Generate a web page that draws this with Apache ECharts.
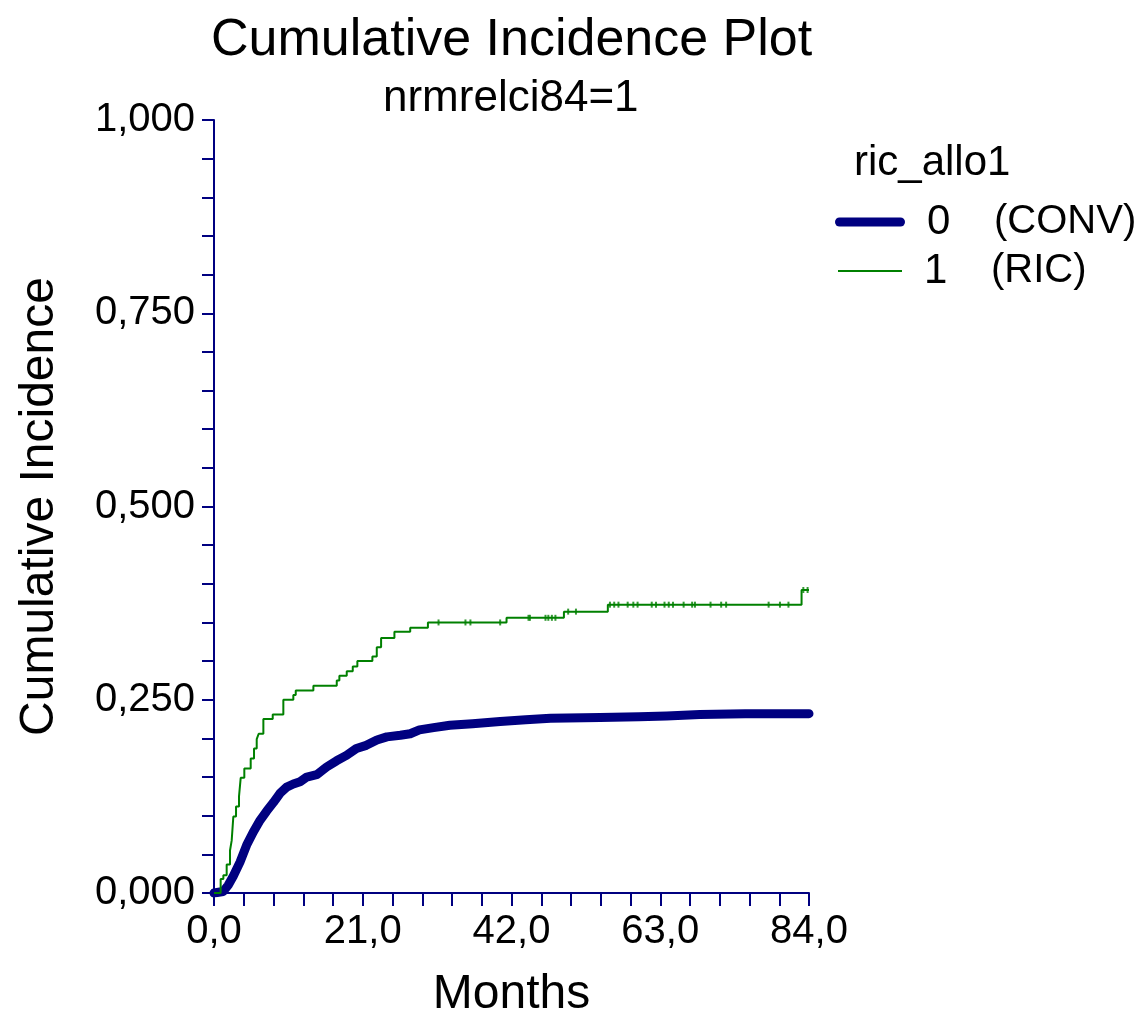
<!DOCTYPE html>
<html>
<head>
<meta charset="utf-8">
<title>Cumulative Incidence Plot</title>
<script src="https://cdn.jsdelivr.net/npm/echarts@6/dist/echarts.min.js"></script>
<style>
  html, body { margin: 0; padding: 0; background: #ffffff; }
  #chart { width: 1145px; height: 1013px; }
</style>
</head>
<body>
<div id="chart"></div>
<script>
// Group codes and their descriptions (ric_allo1)
const groupCodes = ['0', '1'];
const groupLabels = ['(CONV)', '(RIC)'];

// Group 0 (CONV): cumulative incidence by month
const convMonths = [0, 1.3, 2.0, 2.73, 3.67, 4.61, 5.55, 6.5, 7.44, 8.38, 9.32, 10.26, 11.2, 12.15,
  13.1, 14.5, 15.9, 17.3, 18.7, 20.1, 21.5, 23.0, 24.4, 26.3, 27.7, 29.0, 31.0, 33.3, 36.5,
  40.4, 44.0, 47.5, 54.5, 60.0, 63.9, 68.6, 75.0, 84.0];
const convValues = [0, 0.002, 0.010, 0.022, 0.040, 0.062, 0.079, 0.094, 0.106, 0.117, 0.129, 0.137,
  0.141, 0.144, 0.150, 0.153, 0.163, 0.171, 0.178, 0.187, 0.191, 0.198, 0.202, 0.204, 0.206,
  0.211, 0.214, 0.217, 0.219, 0.222, 0.224, 0.226, 0.227, 0.228, 0.229, 0.231, 0.232, 0.232];

// Group 1 (RIC): step times (month of each jump) and the level reached
const ricMonths = [0, 0.94, 1.32, 1.79, 2.26, 2.50, 2.73, 3.11, 3.53, 3.77, 4.28, 5.18, 5.65, 6.03,
  6.31, 6.97, 8.29, 9.79, 11.2, 11.54, 14.03, 17.33, 17.7, 18.74, 19.59, 20.24, 22.36, 22.98,
  23.59, 25.47, 27.7, 30.2, 41.3, 49.4, 55.6, 82.95, 84.0];
const ricValues = [0, 0.018, 0.023, 0.037, 0.055, 0.068, 0.099, 0.112, 0.125, 0.149, 0.161, 0.174,
  0.187, 0.199, 0.206, 0.225, 0.231, 0.250, 0.256, 0.262, 0.268, 0.275, 0.281, 0.287, 0.293,
  0.300, 0.306, 0.318, 0.330, 0.338, 0.343, 0.350, 0.356, 0.364, 0.373, 0.392, 0.392];

// Group 1 (RIC): censored observation times
const ricCensored = [31.7, 35.5, 36.2, 40.4, 44.4, 44.6, 46.8, 47.2, 47.7, 48.2, 50.0, 51.1,
  55.9, 56.5, 57.1, 58.4, 59.2, 59.8, 61.8, 62.4, 63.6, 64.2, 64.8, 66.3, 67.5, 67.9, 70.1,
  71.6, 72.3, 78.3, 79.9, 81.1, 83.2, 83.8];

// Axis ticks
const xTickStep = 21;
const yTickStep = 0.25;

const NAVY = '#000080';
const GREEN = '#008000';
const FONT = "'Liberation Sans', Arial, sans-serif";

const pairs = (xs, ys) => xs.map((x, i) => [x, ys[i]]);

// level of the RIC step function at time t
function ricLevelAt(t) {
  let v = ricValues[0];
  for (let i = 0; i < ricMonths.length; i++) {
    if (ricMonths[i] <= t) v = ricValues[i];
  }
  return v;
}

const chart = echarts.init(document.getElementById('chart'), null, { renderer: 'canvas' });

const axisLine = { show: true, lineStyle: { color: NAVY, width: 2 } };
const tickStyle = { color: NAVY, width: 2 };

const legendRich = {
  a: { fontFamily: FONT, fontSize: 42, color: '#000', width: 67, padding: [0, 0, 0, 17] },
  b: { fontFamily: FONT, fontSize: 40, color: '#000' }
};
const legendFormatter = name => {
  const i = groupCodes.indexOf(name);
  return '{a|' + name + '}{b|' + groupLabels[i] + '}';
};

chart.setOption({
  animation: false,
  backgroundColor: '#ffffff',
  title: [
    {
      text: 'Cumulative Incidence Plot',
      left: 206, top: 10,
      textStyle: { fontFamily: FONT, fontSize: 52, fontWeight: 'normal', color: '#000' }
    },
    {
      text: 'nrmrelci84=1',
      left: 378, top: 72,
      textStyle: { fontFamily: FONT, fontSize: 44, fontWeight: 'normal', color: '#000' }
    },
    {
      text: 'ric_allo1',
      left: 849, top: 137,
      textStyle: { fontFamily: FONT, fontSize: 42, fontWeight: 'normal', color: '#000' }
    }
  ],
  legend: [
    {
      data: [groupCodes[0]],
      left: 830, top: 193,
      itemWidth: 70, itemHeight: 9, itemGap: 0,
      icon: 'path://M4.5,0 H65.5 A4.5,4.5 0 0 1 65.5,9 H4.5 A4.5,4.5 0 0 1 4.5,0 Z',
      selectedMode: false,
      formatter: legendFormatter,
      textStyle: { rich: legendRich, lineHeight: 48 }
    },
    {
      data: [groupCodes[1]],
      left: 833, top: 242,
      itemWidth: 64, itemHeight: 2, itemGap: 0,
      icon: 'rect',
      selectedMode: false,
      formatter: legendFormatter,
      textStyle: { rich: legendRich, lineHeight: 48 }
    }
  ],
  grid: {
    left: 214, top: 120, width: 595, height: 773,
    containLabel: false, outerBoundsMode: 'none'
  },
  xAxis: {
    type: 'value',
    min: 0, max: 84, interval: xTickStep,
    axisLine: axisLine,
    axisTick: { show: true, inside: false, length: 13, lineStyle: tickStyle },
    minorTick: { show: true, splitNumber: 5, length: 13, lineStyle: tickStyle },
    splitLine: { show: false },
    minorSplitLine: { show: false },
    axisLabel: {
      margin: 19, fontFamily: FONT, fontSize: 40, color: '#000',
      formatter: v => v.toFixed(1).replace('.', ',')
    },
    name: 'Months',
    nameLocation: 'middle',
    nameGap: 78,
    nameTextStyle: { fontFamily: FONT, fontSize: 48, color: '#000' }
  },
  yAxis: {
    type: 'value',
    min: 0, max: 1, interval: yTickStep,
    axisLine: axisLine,
    axisTick: { show: true, inside: false, length: 12, lineStyle: tickStyle },
    minorTick: { show: true, splitNumber: 5, length: 12, lineStyle: tickStyle },
    splitLine: { show: false },
    minorSplitLine: { show: false },
    axisLabel: {
      margin: 19, fontFamily: FONT, fontSize: 40, color: '#000',
      formatter: v => v.toFixed(3).replace('.', ',')
    },
    name: 'Cumulative Incidence',
    nameLocation: 'middle',
    nameGap: 150,
    nameRotate: 90,
    nameTextStyle: { fontFamily: FONT, fontSize: 48, color: '#000' }
  },
  series: [
    {
      name: groupCodes[0],
      type: 'line',
      data: pairs(convMonths, convValues),
      showSymbol: false,
      symbol: 'none',
      color: NAVY,
      lineStyle: { color: NAVY, width: 9, cap: 'round', join: 'round' },
      z: 3
    },
    {
      name: groupCodes[1],
      type: 'line',
      step: 'end',
      data: pairs(ricMonths, ricValues),
      showSymbol: false,
      symbol: 'none',
      color: GREEN,
      lineStyle: { color: GREEN, width: 2 },
      z: 4
    },
    {
      name: 'censored',
      type: 'scatter',
      data: ricCensored.map(t => [t, ricLevelAt(t)]),
      symbol: 'rect',
      symbolSize: [2, 6],
      itemStyle: { color: GREEN },
      silent: true,
      z: 5
    }
  ]
});
</script>
</body>
</html>
